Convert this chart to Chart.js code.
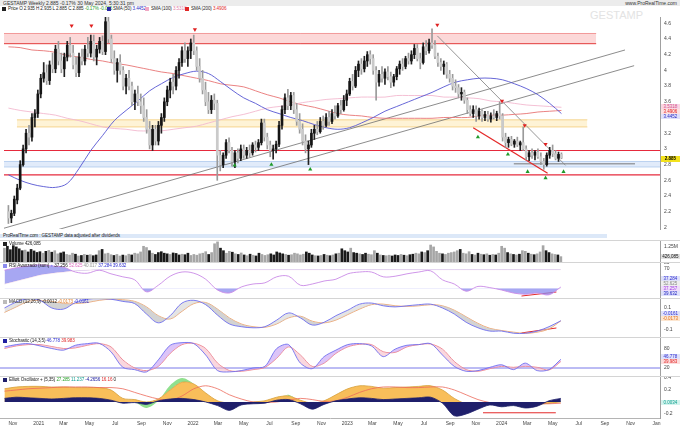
<!DOCTYPE html>
<html>
<head>
<meta charset="utf-8">
<title>GESTAMP Weekly</title>
<script src="https://cdn.jsdelivr.net/npm/chart.js@4.4.1/dist/chart.umd.min.js"></script>
<style>
  body { margin: 0; background: #fff; }
  #wrap { position: relative; width: 680px; height: 429px; overflow: hidden; font-family: 'Liberation Sans', Arial, sans-serif; }
  canvas { position: absolute; left: 0; }
  .t { position: absolute; font-size: 5px; line-height: 6px; white-space: nowrap; color: #333; }
  .lg { font-size: 4.6px; letter-spacing: -0.1px; color: #222; }
  .sq { display: inline-block; width: 4px; height: 4px; margin-right: 2px; vertical-align: -0.5px; }
  .box { position: absolute; left: 661px; width: 19px; height: 5px; font-size: 4.5px; line-height: 5px; text-align: center; }
  .sep { position: absolute; left: 0; width: 680px; height: 1px; background: #d4d4d4; }
</style>
</head>
<body>
<div id="wrap">
  <div class="t" style="left:0;top:0;width:680px;height:6px;background:#ececec"></div>
  <div class="t" style="left:3px;top:0">GESTAMP Weekly 2.885 -0.17% 30 May 2024, 5:30:31 pm</div>
  <div class="t" style="right:3px;top:0">www.ProRealTime.com</div>
  <div class="t" style="left:590px;top:9px;font-size:11px;line-height:13px;color:#e3e3e3">GESTAMP</div>

  <div class="t lg" style="left:2px;top:6px"><span class="sq" style="background:#222"></span>Price O 2.935 H 2.935 L 2.885 C 2.885 <span style="color:#1f9a1f">-0.17% -0.005</span></div>
  <div class="t lg" style="left:107px;top:6px"><span class="sq" style="background:#2a2aa8"></span>SMA (50) <span style="color:#3030c8">3.4452</span></div>
  <div class="t lg" style="left:145px;top:6px"><span class="sq" style="background:#f0a8c4"></span>SMA (100) <span style="color:#e080a8">3.5318</span></div>
  <div class="t lg" style="left:185px;top:6px"><span class="sq" style="background:#e02828"></span>SMA (200) <span style="color:#e02828">3.4906</span></div>

  <canvas id="cMain" width="680" height="220" style="top:13px"></canvas>
  <div class="t" style="left:0;top:234px;width:607px;height:4px;background:#dce8f8;line-height:4px"></div>
  <div class="t lg" style="left:3px;top:233px">ProRealTime.com : GESTAMP data adjusted after dividends</div>
  <canvas id="cVol" width="680" height="22" style="top:240px"></canvas>
  <canvas id="cRsi" width="680" height="36" style="top:262px"></canvas>
  <canvas id="cMacd" width="680" height="39" style="top:298px"></canvas>
  <canvas id="cStoch" width="680" height="39" style="top:337px"></canvas>
  <canvas id="cEll" width="680" height="53" style="top:376px"></canvas>

  <div class="sep" style="top:240px"></div>
  <div class="sep" style="top:262px"></div>
  <div class="sep" style="top:298px"></div>
  <div class="sep" style="top:337px"></div>
  <div class="sep" style="top:376px"></div>

  <div class="t lg" style="left:3px;top:241px"><span class="sq" style="background:#222"></span>Volume 426,085</div>
  <div class="t lg" style="left:3px;top:263px"><span class="sq" style="background:#8c8cf0"></span>RSI Avanzado (sum) <span style="color:#8c8cf0">&#9679;</span> 37.256 <span style="color:#e070c0">52.625</span> <span style="color:#999">40.017</span> <span style="color:#3030d0">37.284</span> <span style="color:#3030d0">39.632</span></div>
  <div class="t lg" style="left:3px;top:299px"><span class="sq" style="background:#bbb"></span>MACD (12,26,9) -0.0012 <span style="color:#e08030">-0.0173</span> <span style="color:#3030d0">-0.0161</span></div>
  <div class="t lg" style="left:3px;top:338px"><span class="sq" style="background:#2020a0"></span>Stochastic (14,3,5) <span style="color:#3030d0">46.778</span> <span style="color:#e02828">39.983</span></div>
  <div class="t lg" style="left:3px;top:377px"><span class="sq" style="background:#1f1f6b"></span>Elliott Oscillator + (5,35) <span style="color:#2aa02a">27.285</span> <span style="color:#10a090">11.237</span> <span style="color:#2020a0">-4.2656</span> <span style="color:#e02828">16.16</span> 0</div>

  <div class="box" style="top:104px;background:#fbd5e3;color:#d0508a">3.5318</div>
  <div class="box" style="top:109px;background:#fde2e2;color:#e02020">3.4906</div>
  <div class="box" style="top:114px;background:#dfe1fb;color:#2a2ac0">3.4452</div>
  <div class="box" style="top:156px;height:6px;line-height:6px;background:#f3e21c;color:#000;font-weight:bold">2.885</div>
  <div class="box" style="top:254px;background:#e2e2e2;color:#111">426,085</div>
  <div class="box" style="top:276px;background:#dfe1fb;color:#3030d0">37.284</div>
  <div class="box" style="top:281px;background:#eeeeee;color:#888">52.625</div>
  <div class="box" style="top:286px;background:#efdcfb;color:#a040e0">37.257</div>
  <div class="box" style="top:291px;background:#dfe1fb;color:#2020c0">39.632</div>
  <div class="box" style="top:311px;background:#dfe1fb;color:#3030d0">-0.0161</div>
  <div class="box" style="top:316px;background:#fde6d0;color:#e07020">-0.0173</div>
  <div class="box" style="top:354px;background:#dfe1fb;color:#3030d0">46.778</div>
  <div class="box" style="top:359px;background:#fddede;color:#e02020">39.983</div>
  <div class="box" style="top:400px;background:#d4f4ee;color:#10a090">0.0034</div>
</div>

<script>
// weekly candles, week 0 = week of 12 Oct 2020
const weekStart = Date.parse('2020-10-12');

const opens = [
  2.20,2.12,2.18,2.35,2.50,2.80,3.00,3.20,3.15,3.40,
  3.45,3.70,3.90,3.97,3.87,4.07,4.02,4.27,4.12,4.02,
  4.17,4.32,4.22,4.07,3.97,4.17,4.12,4.27,4.22,4.37,
  4.17,4.27,4.37,4.24,4.62,4.40,4.15,4.00,4.10,4.00,
  3.80,3.90,3.80,3.60,3.70,3.60,3.55,3.40,3.25,3.05,
  3.25,3.10,3.30,3.40,3.60,3.75,3.85,3.80,4.00,4.10,
  4.25,4.15,4.25,4.35,4.25,4.05,3.90,3.75,3.60,3.50,
  3.62,3.58,2.92,2.80,2.92,3.08,2.98,2.84,2.95,2.88,
  3.00,2.92,2.98,2.95,3.05,3.02,3.08,3.33,3.15,3.05,
  2.98,3.00,3.06,3.30,3.50,3.65,3.55,3.68,3.50,3.35,
  3.25,3.10,3.00,3.05,3.20,3.25,3.22,3.35,3.30,3.40,
  3.35,3.45,3.42,3.55,3.50,3.62,3.70,3.86,3.80,4.00,
  4.08,4.02,4.12,4.20,4.15,4.00,3.85,3.95,3.90,3.98,
  3.92,3.85,3.92,4.02,4.08,4.05,4.15,4.12,4.20,4.28,
  4.15,4.10,4.30,4.25,4.35,4.32,4.18,4.10,4.05,4.08,
  3.95,3.90,3.80,3.78,3.70,3.72,3.62,3.50,3.45,3.50,
  3.42,3.48,3.40,3.44,3.38,3.42,3.40,3.45,3.42,3.15,
  3.08,3.12,3.06,3.10,3.05,3.08,3.00,2.90,2.95,2.92,
  2.96,2.90,2.84,2.80,2.92,2.98,2.94,2.88,2.93
];
const highs = [
  2.28,2.22,2.40,2.55,2.85,3.05,3.25,3.30,3.45,3.50,
  3.75,3.95,4.10,4.07,4.12,4.22,4.32,4.37,4.22,4.22,
  4.37,4.42,4.32,4.17,4.22,4.27,4.32,4.42,4.45,4.45,
  4.32,4.42,4.44,4.80,4.68,4.45,4.25,4.15,4.20,4.05,
  3.95,4.00,3.85,3.75,3.80,3.70,3.65,3.50,3.35,3.30,
  3.30,3.35,3.45,3.65,3.80,3.90,3.95,4.05,4.15,4.30,
  4.35,4.30,4.40,4.45,4.30,4.15,4.00,3.85,3.72,3.68,
  3.70,3.62,2.98,2.95,3.12,3.14,3.02,2.98,3.00,3.05,
  3.05,3.02,3.05,3.08,3.10,3.12,3.38,3.38,3.20,3.10,
  3.05,3.10,3.35,3.55,3.70,3.76,3.72,3.72,3.58,3.45,
  3.32,3.18,3.10,3.25,3.30,3.35,3.40,3.42,3.45,3.48,
  3.50,3.55,3.58,3.62,3.68,3.75,3.90,3.95,4.05,4.12,
  4.15,4.18,4.24,4.25,4.20,4.05,4.00,4.05,4.02,4.05,
  3.98,3.95,4.05,4.12,4.15,4.18,4.22,4.25,4.33,4.33,
  4.22,4.35,4.38,4.40,4.53,4.38,4.22,4.15,4.12,4.10,
  4.00,3.95,3.88,3.82,3.78,3.75,3.65,3.55,3.55,3.55,
  3.52,3.50,3.48,3.48,3.46,3.50,3.48,3.60,3.45,3.20,
  3.15,3.16,3.12,3.15,3.10,3.28,3.04,2.98,3.00,2.98,
  3.00,2.95,2.88,2.95,3.02,3.05,2.98,2.96,2.95
];
const lows = [
  2.05,2.06,2.15,2.30,2.48,2.78,2.95,3.05,3.10,3.28,
  3.40,3.65,3.85,3.82,3.82,3.97,3.97,4.07,3.97,3.92,
  4.12,4.17,4.02,3.92,3.92,4.07,4.07,4.17,4.17,4.12,
  4.07,4.22,4.20,4.20,4.35,4.10,3.95,3.85,3.95,3.75,
  3.70,3.75,3.55,3.50,3.55,3.45,3.35,3.20,3.00,2.98,
  3.05,3.05,3.20,3.35,3.55,3.65,3.70,3.75,3.90,4.05,
  4.10,4.05,4.15,4.20,4.00,3.85,3.70,3.55,3.45,3.45,
  3.50,2.60,2.72,2.76,2.88,2.95,2.78,2.76,2.82,2.85,
  2.88,2.88,2.90,2.92,2.96,2.98,3.05,3.10,3.00,2.90,
  2.87,2.95,3.03,3.25,3.45,3.50,3.50,3.45,3.30,3.20,
  3.05,2.95,2.80,3.02,3.12,3.18,3.20,3.25,3.28,3.30,
  3.32,3.38,3.40,3.45,3.48,3.55,3.68,3.75,3.78,3.92,
  3.95,3.98,4.05,4.08,3.95,3.62,3.80,3.85,3.82,3.88,
  3.78,3.80,3.88,3.95,4.00,4.02,4.08,4.08,4.15,4.12,
  4.02,4.08,4.20,4.22,4.28,4.15,4.05,4.00,3.95,3.90,
  3.85,3.75,3.72,3.65,3.62,3.58,3.45,3.42,3.40,3.35,
  3.38,3.35,3.36,3.35,3.34,3.38,3.36,3.38,3.10,3.02,
  3.02,3.04,3.02,3.03,2.98,2.98,2.86,2.85,2.88,2.86,
  2.88,2.80,2.74,2.78,2.88,2.90,2.86,2.84,2.875
];
const closes = [
  2.12,2.18,2.36,2.50,2.80,3.00,3.20,3.15,3.40,3.45,
  3.70,3.90,3.97,3.87,4.07,4.02,4.27,4.12,4.02,4.17,
  4.32,4.22,4.07,3.97,4.17,4.12,4.27,4.22,4.37,4.17,
  4.27,4.37,4.24,4.62,4.40,4.15,4.00,4.10,4.00,3.80,
  3.90,3.80,3.60,3.70,3.60,3.55,3.40,3.25,3.05,3.25,
  3.10,3.30,3.40,3.60,3.75,3.85,3.80,4.00,4.10,4.25,
  4.15,4.25,4.35,4.25,4.05,3.90,3.75,3.60,3.50,3.62,
  3.58,2.92,2.80,2.92,3.08,2.98,2.84,2.95,2.88,3.00,
  2.92,2.98,2.95,3.05,3.02,3.08,3.33,3.15,3.05,2.98,
  3.00,3.06,3.30,3.50,3.65,3.55,3.68,3.50,3.35,3.25,
  3.10,3.00,3.05,3.20,3.25,3.22,3.35,3.30,3.40,3.35,
  3.45,3.42,3.55,3.50,3.62,3.70,3.86,3.80,4.00,4.08,
  4.02,4.12,4.20,4.15,4.00,3.85,3.95,3.90,3.98,3.92,
  3.85,3.92,4.02,4.08,4.05,4.15,4.12,4.20,4.28,4.15,
  4.10,4.30,4.25,4.35,4.32,4.18,4.10,4.05,4.08,3.95,
  3.90,3.80,3.78,3.70,3.72,3.62,3.50,3.45,3.50,3.42,
  3.48,3.40,3.44,3.38,3.42,3.40,3.45,3.42,3.15,3.08,
  3.12,3.06,3.10,3.05,3.08,3.00,2.90,2.95,2.92,2.96,
  2.90,2.84,2.80,2.92,2.98,2.94,2.88,2.93,2.885
];
// thousands of shares
const volumes = [
  1100,1250,980,1300,1200,1050,900,
  950,800,1000,880,760,820,
  700,850,920,780,900,650,720,800,
  600,550,700,620,480,520,600,540,580,500,
  560,900,1000,650,700,580,520,600,480,550,
  500,620,560,700,650,800,1250,1150,900,700,
  600,750,820,700,650,600,720,680,560,620,
  580,700,520,600,540,650,700,820,600,750,
  1450,1600,1100,900,700,850,780,650,600,720,
  560,500,620,540,480,700,600,520,580,650,
  560,800,720,650,600,540,580,700,650,560,
  620,800,700,560,500,480,520,600,540,500,
  560,650,700,1050,900,800,1100,750,700,650,
  600,700,620,580,900,700,560,520,500,540,
  480,560,520,600,540,500,580,620,700,650,
  800,750,900,1350,1200,850,700,650,600,700,
  750,800,900,1000,700,650,820,600,560,700,
  620,580,650,540,600,560,700,1250,1100,750,
  650,600,560,620,900,850,700,620,580,650,
  800,1300,900,750,650,600,560,426
];

// moving averages and indicators, one value every 4 weeks
const sma50 = [2.67,2.60,2.55,2.52,2.51,2.56,2.75,2.98,3.17,3.36,3.49,3.61,3.74,3.83,3.91,3.96,3.99,3.96,3.86,3.75,3.65,3.58,3.50,3.45,3.40,3.36,3.31,3.27,3.25,3.27,3.33,3.40,3.48,3.54,3.60,3.66,3.72,3.79,3.85,3.88,3.90,3.90,3.88,3.83,3.77,3.69,3.58,3.45];
const sma100 = [3.52,3.49,3.47,3.45,3.43,3.39,3.36,3.32,3.28,3.26,3.25,3.23,3.23,3.23,3.25,3.27,3.29,3.33,3.37,3.41,3.44,3.48,3.52,3.54,3.56,3.59,3.61,3.63,3.64,3.65,3.66,3.66,3.66,3.68,3.68,3.68,3.68,3.66,3.66,3.65,3.64,3.61,3.60,3.58,3.56,3.55,3.54,3.53];
const sma200 = [4.30,4.29,4.26,4.25,4.23,4.19,4.17,4.14,4.12,4.09,4.07,4.04,4.01,3.98,3.96,3.93,3.90,3.87,3.83,3.81,3.79,3.74,3.69,3.65,3.60,3.56,3.53,3.49,3.45,3.43,3.42,3.40,3.39,3.39,3.39,3.39,3.39,3.40,3.40,3.40,3.42,3.43,3.43,3.44,3.45,3.47,3.48,3.49];

const rsi = [68,72,75,77,75,73,65,63,68,62,57,52,32,43,58,65,63,53,35,30,40,45,47,57,58,43,45,50,53,62,65,65,57,58,62,65,67,52,45,33,41,39,35,30,28,30,27,40];
const rsiUpper = [45,50,55,60,63,65,67,68,69,69,69,69,69,69,69,69,69,69,69,69,69,69,69,69,69,69,69,69,69,69,69,69,69,69,69,69,69,69,69,69,69,69,69,69,69,69,69,69];
const rsiLowerLevel = 38;

const macd = [0.10,0.155,0.185,0.17,0.10,0.09,0.15,0.18,0.185,0.18,0.16,0.14,0.045,-0.035,0.03,0.145,0.17,0.13,0.035,-0.045,-0.07,-0.08,-0.07,-0.01,0.055,0.01,-0.055,-0.03,0.03,0.08,0.135,0.145,0.12,0.11,0.12,0.13,0.135,0.10,0.045,-0.03,-0.08,-0.11,-0.11,-0.13,-0.13,-0.11,-0.07,-0.016];
const macdSignal = [0.06,0.11,0.16,0.17,0.16,0.14,0.14,0.15,0.17,0.18,0.175,0.16,0.11,0.03,0.0,0.07,0.14,0.15,0.09,0.01,-0.045,-0.07,-0.075,-0.045,0.01,0.025,-0.02,-0.035,-0.01,0.04,0.09,0.13,0.135,0.12,0.115,0.12,0.13,0.12,0.08,0.02,-0.04,-0.085,-0.105,-0.12,-0.13,-0.12,-0.09,-0.017];

const stochK = [85,92,95,88,80,75,90,95,96,70,22,15,8,45,90,98,95,60,12,8,12,20,25,80,92,35,18,55,75,92,95,88,55,78,90,92,95,60,25,10,12,22,30,15,35,12,15,46.8];
const stochD = [80,88,92,92,86,80,82,90,95,85,45,20,12,25,65,92,96,80,35,12,10,15,22,50,85,60,25,35,65,85,93,92,70,68,85,92,94,78,40,15,10,18,25,22,25,22,14,40.0];
const stochLevel = 20;

const ellTrend = [0.22,0.25,0.26,0.26,0.25,0.25,0.24,0.24,0.24,0.20,0.06,0.04,0.0,0.05,0.20,0.33,0.30,0.15,0.02,-0.02,-0.03,0.0,0.02,0.08,0.10,0.03,-0.02,0.02,0.12,0.22,0.27,0.26,0.23,0.24,0.25,0.26,0.27,0.20,0.06,-0.03,-0.04,-0.02,-0.03,-0.04,-0.03,-0.03,-0.02,0.0];
const ellFast = [0.22,0.24,0.25,0.25,0.24,0.24,0.23,0.23,0.23,0.18,0.04,0.0,-0.10,0.02,0.28,0.40,0.30,0.12,-0.02,-0.06,-0.03,-0.02,0.0,0.06,0.12,0.0,-0.05,0.0,0.10,0.20,0.25,0.25,0.22,0.22,0.24,0.25,0.26,0.18,0.02,-0.08,-0.10,-0.04,-0.08,-0.06,-0.10,-0.05,-0.03,0.02];
const ellOsc = [0.06,0.08,0.07,0.06,0.05,0.06,0.07,0.07,0.06,0.03,-0.02,-0.01,-0.04,0.02,0.05,0.06,0.04,0.0,-0.06,-0.14,-0.05,-0.03,-0.02,0.03,0.04,-0.03,-0.12,-0.04,0.02,0.05,0.07,0.06,0.04,0.05,0.06,0.07,0.08,-0.02,-0.23,-0.20,-0.12,-0.05,-0.08,-0.06,-0.10,-0.07,0.02,0.06];
const ellSignal = [0.18,0.20,0.22,0.23,0.24,0.25,0.25,0.25,0.24,0.24,0.22,0.16,0.10,0.05,0.03,0.10,0.22,0.27,0.22,0.12,0.05,0.0,-0.01,0.0,0.03,0.06,0.04,0.01,0.02,0.08,0.16,0.22,0.25,0.25,0.24,0.24,0.25,0.25,0.20,0.12,0.04,-0.01,-0.03,-0.03,-0.03,-0.03,-0.03,-0.02];

// drawn levels, zones and trendlines (week, price)
const resistZone = [4.34, 4.47], resistWeeks = [-1.5, 199.8];
const midZone = [3.28, 3.37], midWeeks = [2.9, 196.8];
const supportBand = [2.77, 2.84];
const redLevels = [2.98, 2.67];
const grayLevel = 2.81, grayWeeks = [171.8, 213];
const upTrendA = [1.99, 4.26], upTrendAWeeks = [-1.5, 209.6];
const upTrendB = [1.92, 4.06], upTrendBWeeks = [12.0, 212.7];
const downTrend = [4.44, 2.79], downTrendWeeks = [145.8, 189.4];
const channelLow = [3.27, 2.69], channelWeeks = [158, 183.3];
const sellWeeks = [21.5, 28.2, 63.4, 145.8, 167.8, 175.5, 182.6];
const sellPrices = [4.57, 4.57, 4.52, 4.58, 3.61, 3.30, 3.06];
const buyWeeks = [76.9, 89.4, 102.6, 159.6, 169.8, 176.5, 182.6, 188.7];
const buyPrices = [2.79, 2.80, 2.74, 3.15, 2.93, 2.71, 2.63, 2.71];
const divWeeks = [174.7, 186.5];
const rsiDiv = [25, 31.7];
const macdDiv = [-0.127, -0.082];
const ellLevel = -0.18, ellLevelWeeks = [161.7, 186.3];

// axis
const priceTicks = [2, 2.2, 2.4, 2.6, 2.8, 3, 3.2, 3.4, 3.6, 3.8, 4, 4.2, 4.4, 4.6];
const tickLabels = ['Nov','2021','Mar','May','Jul','Sep','Nov','2022','Mar','May','Jul','Sep','Nov','2023','Mar','May','Jul','Sep','Nov','2024','Mar','May','Jul','Sep','Nov','Jan'];
const tickDates = ['2020-11-01','2021-01-01','2021-03-01','2021-05-01','2021-07-01','2021-09-01','2021-11-01','2022-01-01','2022-03-01','2022-05-01','2022-07-01','2022-09-01','2022-11-01','2023-01-01','2023-03-01','2023-05-01','2023-07-01','2023-09-01','2023-11-01','2024-01-01','2024-03-01','2024-05-01','2024-07-01','2024-09-01','2024-11-01','2025-01-01'];
const tickWeeks = tickDates.map(d => (Date.parse(d) - weekStart) / 604800000);

const X_MIN = -1.5, X_MAX = 221.5;

Chart.defaults.animation = false;
Chart.defaults.responsive = false;
Chart.defaults.devicePixelRatio = 1;
Chart.defaults.font.family = "'Liberation Sans', Arial, sans-serif";
Chart.defaults.font.size = 5;
Chart.defaults.color = '#444';
Chart.defaults.plugins.legend.display = false;
Chart.defaults.plugins.tooltip.enabled = false;
Chart.defaults.elements.point.radius = 0;

const every4 = arr => arr.map((v, i) => ({x: i * 4, y: v}));
const seg = (weeks, vals) => weeks.map((w, i) => ({x: w, y: vals[i]}));
const flat = (weeks, v) => weeks.map(w => ({x: w, y: v}));
const full = [X_MIN, X_MAX];

function line(data, color, width, extra) {
  return Object.assign({type: 'line', data, borderColor: color, borderWidth: width,
    pointRadius: 0, fill: false, tension: 0}, extra || {});
}

function xAxis(show) {
  const ax = {
    type: 'linear', min: X_MIN, max: X_MAX, offset: false, display: show,
    grid: {display: false, drawTicks: false},
    border: {display: true, color: '#b4b4b4'},
    afterBuildTicks: s => { s.ticks = tickWeeks.map(v => ({value: v})); },
    ticks: {autoSkip: false, maxRotation: 0, padding: 3, color: '#444', font: {size: 5},
      callback: (v, i) => tickLabels[i]}
  };
  if (show) ax.afterFit = s => { s.height = 11; s.paddingLeft = 0; s.paddingRight = 0; };
  return ax;
}

function yAxis(min, max, ticks, fmt) {
  return {
    position: 'right', min, max,
    grid: {display: false, drawTicks: false},
    border: {display: true, color: '#a0a0a0'},
    afterBuildTicks: s => { s.ticks = ticks.map(v => ({value: v})); },
    afterFit: s => { s.width = 20; s.paddingTop = 0; s.paddingBottom = 0; },
    ticks: {padding: 4, color: '#444', font: {size: 5}, callback: fmt || (v => String(v))}
  };
}

function panel(id, type, datasets, y, showX) {
  return new Chart(document.getElementById(id), {
    type,
    data: {datasets},
    options: {layout: {padding: 0}, scales: {x: xAxis(showX), y}}
  });
}

const up = closes.map((c, i) => c >= opens[i]);

// main price panel (dataset 0 is drawn on top)
panel('cMain', 'bar', [
  line(seg(sellWeeks, sellPrices), '#e02020', 0, {showLine: false, pointStyle: 'triangle',
    pointRadius: 2.4, pointRotation: 180, pointBackgroundColor: '#e02020', pointBorderWidth: 0}),
  line(seg(buyWeeks, buyPrices), '#1f9a2a', 0, {showLine: false, pointStyle: 'triangle',
    pointRadius: 2.4, pointBackgroundColor: '#1f9a2a', pointBorderWidth: 0}),
  {type: 'bar', data: closes.map((c, i) => ({x: i, y: [opens[i], c]})),
    backgroundColor: up.map(u => u ? '#151515' : '#cacaca'), borderWidth: 0,
    barThickness: 2, grouped: false, minBarLength: 1},
  {type: 'bar', data: closes.map((c, i) => ({x: i, y: [lows[i], highs[i]]})),
    backgroundColor: up.map(u => u ? '#222' : '#9a9a9a'), borderWidth: 0,
    barThickness: 1, grouped: false},
  line(every4(sma50), '#5656d2', 0.9, {tension: 0.35}),
  line(every4(sma100), '#f3b9cf', 0.9, {tension: 0.35}),
  line(every4(sma200), '#e87474', 0.9, {tension: 0.35}),
  line(seg(downTrendWeeks, downTrend), '#8a8a8a', 0.9),
  line(seg(channelWeeks, channelLow), '#e42a2a', 1.3),
  line(seg(upTrendAWeeks, upTrendA), '#6e6e6e', 0.8),
  line(seg(upTrendBWeeks, upTrendB), '#6e6e6e', 0.8),
  line(flat(grayWeeks, grayLevel), '#7a7a7a', 1),
  line(flat(full, redLevels[0]), '#e62a3c', 1.2),
  line(flat(full, redLevels[1]), '#e62a3c', 1.2),
  line(flat(full, supportBand[0]), '#bcd2f0', 1),
  line(flat(full, supportBand[1]), '#bcd2f0', 1, {fill: '-1', backgroundColor: 'rgba(200,218,246,0.55)'}),
  line(flat(midWeeks, midZone[0]), '#f6d48e', 1),
  line(flat(midWeeks, midZone[1]), '#f6d48e', 1, {fill: '-1', backgroundColor: 'rgba(252,228,165,0.45)'}),
  line(flat(resistWeeks, resistZone[0]), '#e23a3a', 1),
  line(flat(resistWeeks, resistZone[1]), '#f29a9a', 1, {fill: '-1', backgroundColor: 'rgba(248,168,168,0.45)'})
], yAxis(1.98, 4.68, priceTicks, v => String(+v.toFixed(1))), false);

// volume
panel('cVol', 'bar', [
  {data: volumes.map((v, i) => ({x: i, y: v})),
    backgroundColor: up.map(u => u ? '#1a1a1a' : '#a6a6a6'), barThickness: 2, borderWidth: 0}
], yAxis(0, 1750, [1250], v => (v / 1000) + 'M'), false);

// RSI
panel('cRsi', 'line', [
  line(every4(rsi), '#c98ae6', 0.9, {tension: 0.35,
    fill: {target: 2, above: 'rgba(138,138,238,0.75)', below: 'rgba(0,0,0,0)'}}),
  line(every4(rsi), 'rgba(0,0,0,0)', 0, {tension: 0.35,
    fill: {target: {value: rsiLowerLevel}, above: 'rgba(0,0,0,0)', below: 'rgba(138,138,238,0.75)'}}),
  line(every4(rsiUpper), 'rgba(236,190,214,0.7)', 0.6, {tension: 0.35}),
  line(seg(divWeeks, rsiDiv), '#e42a2a', 1)
], yAxis(21.7, 81.7, [80, 70]), false);

// MACD
panel('cMacd', 'line', [
  line(every4(macd), '#6f6ff0', 0.9, {tension: 0.35,
    fill: {target: 1, above: 'rgba(205,205,205,0.55)', below: 'rgba(200,200,200,0.8)'}}),
  line(every4(macdSignal), '#f2a064', 0.9, {tension: 0.35}),
  line(seg(divWeeks, macdDiv), '#e42a2a', 1)
], yAxis(-0.164, 0.191, [0.1, -0.1]), false);

// Stochastic
panel('cStoch', 'line', [
  line(every4(stochK), '#6f6ff0', 0.9, {tension: 0.3,
    fill: {target: 1, above: 'rgba(196,156,244,0.6)', below: 'rgba(246,188,200,0.6)'}}),
  line(every4(stochD), '#f07c7c', 0.9, {tension: 0.3}),
  line(flat(full, stochLevel), '#6a6ae6', 0.9)
], yAxis(-4.6, 115.4, [80, 20]), false);

// Elliott oscillator + x axis
panel('cEll', 'line', [
  line(every4(ellOsc), '#1f1f6b', 0.8, {tension: 0.3, fill: {target: 'origin'}, backgroundColor: '#1f1f6b'}),
  line(flat(ellLevelWeeks, ellLevel), '#e42a2a', 1),
  line(every4(ellSignal), '#ec6a5a', 0.8, {tension: 0.3}),
  line(every4(ellTrend), '#d99a32', 0.7, {tension: 0.3, fill: {target: 'origin'}, backgroundColor: '#f8be5a'}),
  line(every4(ellFast), 'rgba(0,0,0,0)', 0, {tension: 0.3,
    fill: {target: 3, above: '#90e08e', below: 'rgba(0,0,0,0)'}}),
  line(every4(ellFast), 'rgba(0,0,0,0)', 0, {tension: 0.3,
    fill: {target: 'origin', above: 'rgba(0,0,0,0)', below: '#90e08e'}})
], yAxis(-0.267, 0.433, [0.4, 0.2, -0.2]), true);
</script>
</body>
</html>
